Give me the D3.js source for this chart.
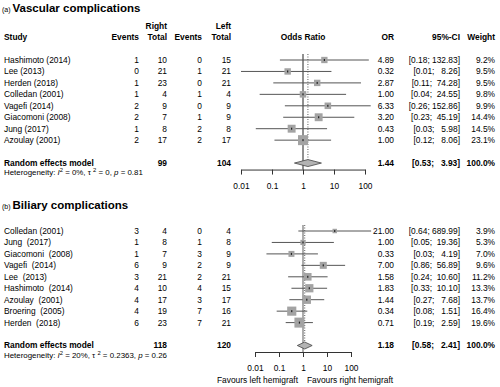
<!DOCTYPE html>
<html>
<head>
<meta charset="utf-8">
<script src="https://cdn.jsdelivr.net/npm/d3@7"></script>
<style>
  body { margin: 0; background: #fff; }
  svg text { font-family: "Liberation Sans", Arial, sans-serif; white-space: pre; fill: #000; }
</style>
</head>
<body>
<div id="chart"></div>
<script>
// (a) vascular complications
const vascStudies = ["Hashimoto (2014)", "Lee (2013)", "Herden (2018)", "Colledan (2001)",
  "Vagefi (2014)", "Giacomoni (2008)", "Jung (2017)", "Azoulay (2001)"];
const vascEventsR = [1, 0, 1, 1, 2, 2, 1, 2];
const vascTotalR = [10, 21, 23, 4, 9, 7, 8, 17];
const vascEventsL = [0, 1, 0, 1, 0, 1, 2, 2];
const vascTotalL = [15, 21, 21, 4, 9, 9, 8, 17];
const vascOR = [4.89, 0.32, 2.87, 1.00, 6.33, 3.20, 0.43, 1.00];
const vascLower = [0.18, 0.01, 0.11, 0.04, 0.26, 0.23, 0.03, 0.12];
const vascUpper = [132.83, 8.26, 74.28, 24.55, 152.86, 45.19, 5.98, 8.06];
const vascWeight = [9.2, 9.5, 9.5, 9.8, 9.9, 14.4, 14.5, 23.1];
const vascSummary = [1.44, 0.53, 3.93];
const vascTotals = [99, 104];
const vascHet = ["0%", "0", "0.81"];

// (b) biliary complications
const bilStudies = ["Colledan (2001)", "Jung  (2017)", "Giacomoni  (2008)", "Vagefi  (2014)",
  "Lee  (2013)", "Hashimoto  (2014)", "Azoulay  (2001)", "Broering  (2005)", "Herden  (2018)"];
const bilEventsR = [3, 1, 1, 6, 3, 4, 4, 4, 6];
const bilTotalR = [4, 8, 7, 9, 21, 10, 17, 19, 23];
const bilEventsL = [0, 1, 3, 2, 2, 4, 3, 7, 7];
const bilTotalL = [4, 8, 9, 9, 21, 15, 17, 16, 21];
const bilOR = [21.00, 1.00, 0.33, 7.00, 1.58, 1.83, 1.44, 0.34, 0.71];
const bilLower = [0.64, 0.05, 0.03, 0.86, 0.24, 0.33, 0.27, 0.08, 0.19];
const bilUpper = [689.99, 19.36, 4.19, 56.89, 10.60, 10.10, 7.68, 1.51, 2.59];
const bilWeight = [3.9, 5.3, 7.0, 9.6, 11.2, 13.3, 13.7, 16.4, 19.6];
const bilSummary = [1.18, 0.58, 2.41];
const bilTotals = [118, 120];
const bilHet = ["20%", "0.2363", "0.26"];

const axisTicks = [0.01, 0.1, 1, 10, 100];
const axisLabels = ["0.01", "0.1", "1", "10", "100"];

const width = 500, height = 387;
const fs = 8.4;
const col = { study: 4, evR: 139, totR: 167, evL: 202, totL: 231, or: 394, ci: 460, w: 495 };

const svg = d3.select("#chart").append("svg")
  .attr("width", width)
  .attr("height", height);

function fmtCI(lo, hi, upWidth) {
  return "[" + lo.toFixed(2) + "; " + hi.toFixed(2).padStart(upWidth, " ") + "]";
}

function txt(g, x, y, s, anchor, bold, size) {
  return g.append("text")
    .attr("x", x).attr("y", y)
    .attr("dy", "0.35em")
    .attr("text-anchor", anchor || "start")
    .style("font-size", (size || fs) + "px")
    .style("font-weight", bold ? "bold" : "normal")
    .text(s);
}

function drawPanel(p) {
  const g = svg.append("g");
  const yRow = d3.scaleLinear().domain([0, 1]).range([p.y0, p.y0 + 11.45]);
  const x = d3.scaleLog().domain([0.01, 100]).range(p.xRange);
  const n = p.studies.length;
  const ySum = yRow(n + 1);
  const yAxis = ySum + 6.5;

  // title
  const t = g.append("text").attr("x", 2).attr("y", p.titleY);
  t.append("tspan").style("font-size", "7px").text(p.letter + " ");
  t.append("tspan").style("font-size", "11.5px").style("font-weight", "bold").text(p.title);

  if (p.header) {
    txt(g, col.totR, p.y0 - 34, "Right", "end", true);
    txt(g, col.totL, p.y0 - 34, "Left", "end", true);
    const hy = p.y0 - 23;
    txt(g, col.study, hy, "Study", "start", true);
    txt(g, col.evR, hy, "Events", "end", true);
    txt(g, col.totR, hy, "Total", "end", true);
    txt(g, col.evL, hy, "Events", "end", true);
    txt(g, col.totL, hy, "Total", "end", true);
    txt(g, 303, hy, "Odds Ratio", "middle", true);
    txt(g, col.or, hy, "OR", "end", true);
    txt(g, col.ci, hy, "95%-CI", "end", true);
    txt(g, col.w, hy, "Weight", "end", true);
  }

  const upW = d3.max(p.upper, d => d.toFixed(2).length);

  p.studies.forEach((s, i) => {
    const y = yRow(i);
    txt(g, col.study, y, s);
    txt(g, col.evR, y, String(p.evR[i]), "end");
    txt(g, col.totR, y, String(p.totR[i]), "end");
    txt(g, col.evL, y, String(p.evL[i]), "end");
    txt(g, col.totL, y, String(p.totL[i]), "end");
    txt(g, col.or, y, p.or[i].toFixed(2), "end");
    txt(g, col.ci, y, fmtCI(p.lower[i], p.upper[i], upW), "end");
    txt(g, col.w, y, p.weight[i].toFixed(1) + "%", "end");
  });

  // summary row text
  txt(g, col.study, ySum, "Random effects model", "start", true);
  txt(g, col.totR, ySum, String(p.totals[0]), "end", true);
  txt(g, col.totL, ySum, String(p.totals[1]), "end", true);
  txt(g, col.or, ySum, p.summary[0].toFixed(2), "end", true);
  txt(g, col.ci, ySum, fmtCI(p.summary[1], p.summary[2], upW), "end", true);
  txt(g, col.w, ySum, "100.0%", "end", true);

  // heterogeneity
  const h = g.append("text").attr("x", col.study).attr("y", ySum + 9.5).attr("dy", "0.35em")
    .style("font-size", "7.9px");
  h.append("tspan").text("Heterogeneity: ");
  h.append("tspan").style("font-style", "italic").text("I");
  h.append("tspan").attr("dy", "-3").style("font-size", "5.8px").text("2");
  h.append("tspan").attr("dy", "3").text(" = " + p.het[0] + ", \u03c4 ");
  h.append("tspan").attr("dy", "-3").style("font-size", "5.8px").text("2");
  h.append("tspan").attr("dy", "3").text(" = " + p.het[1] + ", ");
  h.append("tspan").style("font-style", "italic").text("p");
  h.append("tspan").text(" = " + p.het[2]);

  // reference line at 1 and dotted line at pooled estimate
  const yTop = yRow(0) - 6;
  g.append("line")
    .attr("x1", x(1)).attr("x2", x(1))
    .attr("y1", yTop).attr("y2", yAxis)
    .attr("stroke", p.refColor).attr("stroke-width", p.refWidth);
  g.append("line")
    .attr("x1", x(p.summary[0])).attr("x2", x(p.summary[0]))
    .attr("y1", yTop).attr("y2", ySum - 3.5)
    .attr("stroke", "#333").attr("stroke-width", 0.8)
    .attr("stroke-dasharray", "1,1.5");

  // confidence intervals
  g.selectAll(".ci").data(p.or).enter().append("line")
    .attr("x1", (d, i) => x(p.lower[i]))
    .attr("x2", (d, i) => x(p.upper[i]))
    .attr("y1", (d, i) => yRow(i)).attr("y2", (d, i) => yRow(i))
    .attr("stroke", "#555").attr("stroke-width", 1);

  const maxW = d3.max(p.weight);
  const side = w => 10 * Math.sqrt(w / maxW);
  g.selectAll(".sq").data(p.or).enter().append("rect")
    .attr("x", (d, i) => x(d) - side(p.weight[i]) / 2)
    .attr("y", (d, i) => yRow(i) - side(p.weight[i]) / 2)
    .attr("width", (d, i) => side(p.weight[i]))
    .attr("height", (d, i) => side(p.weight[i]))
    .attr("fill", "#a3a3a3");
  g.selectAll(".pt").data(p.or).enter().append("rect")
    .attr("x", d => x(d) - 0.6)
    .attr("y", (d, i) => yRow(i) - 1)
    .attr("width", 1.2).attr("height", 2)
    .attr("fill", "#222");

  // pooled diamond
  const s = p.summary;
  g.append("polygon")
    .attr("points", [[x(s[1]), ySum], [x(s[0]), ySum - 3.5], [x(s[2]), ySum], [x(s[0]), ySum + 3.5]]
      .map(q => q.join(",")).join(" "))
    .attr("fill", "#b3b3b3").attr("stroke", "#444").attr("stroke-width", 0.8);

  // axis
  const ax = g.append("g")
    .attr("transform", `translate(0,${yAxis})`)
    .call(d3.axisBottom(x).tickValues(axisTicks)
      .tickFormat((d, i) => axisLabels[i])
      .tickSize(5).tickSizeOuter(0).tickPadding(8));
  ax.select(".domain").attr("stroke", "#333");
  ax.selectAll(".tick line").attr("stroke", "#333");
  ax.selectAll(".tick text").style("font-size", fs + "px").style("font-family", "Liberation Sans, Arial, sans-serif");

  if (p.favours) {
    txt(g, x(1) - 5, yAxis + 28.5, "Favours left hemigraft", "end");
    txt(g, x(1) + 4, yAxis + 28.5, "Favours right hemigraft", "start");
  }
}

drawPanel({
  letter: "(a)", title: "Vascular complications", titleY: 12, header: true,
  y0: 60, xRange: [241, 365], refColor: "#222", refWidth: 1,
  studies: vascStudies, evR: vascEventsR, totR: vascTotalR, evL: vascEventsL, totL: vascTotalL,
  or: vascOR, lower: vascLower, upper: vascUpper, weight: vascWeight,
  summary: vascSummary, totals: vascTotals, het: vascHet, favours: false
});

drawPanel({
  letter: "(b)", title: "Biliary complications", titleY: 209, header: false,
  y0: 231, xRange: [255, 351], refColor: "#999", refWidth: 1.6,
  studies: bilStudies, evR: bilEventsR, totR: bilTotalR, evL: bilEventsL, totL: bilTotalL,
  or: bilOR, lower: bilLower, upper: bilUpper, weight: bilWeight,
  summary: bilSummary, totals: bilTotals, het: bilHet, favours: true
});
</script>
</body>
</html>
